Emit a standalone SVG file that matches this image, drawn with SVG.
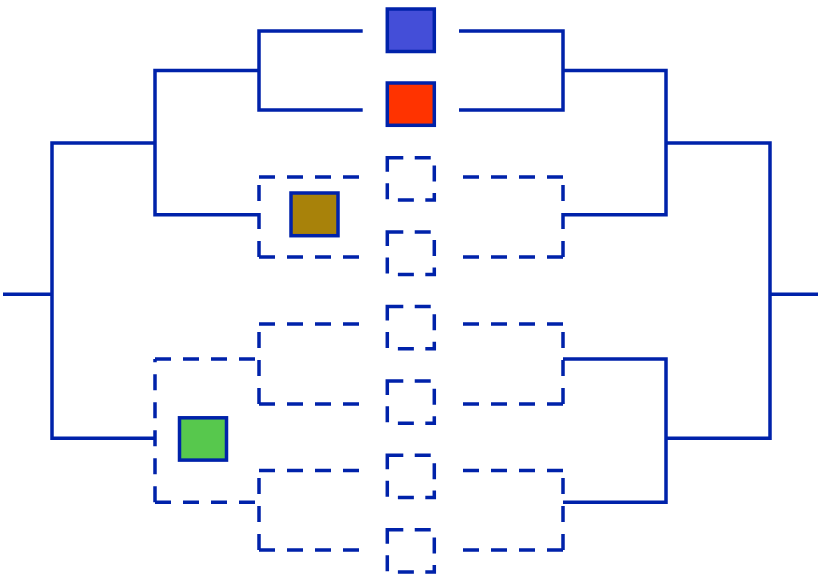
<svg xmlns="http://www.w3.org/2000/svg" width="818" height="578" viewBox="0 0 818 578">
<style>
.solid{fill:none;stroke:#0022aa;stroke-width:3.5;stroke-linejoin:miter}
.dash{fill:none;stroke:#0022aa;stroke-width:3.5;stroke-dasharray:16 12}
.slot{fill:none;stroke:#0022aa;stroke-width:3.5;stroke-dasharray:16 11.43}
.sq{stroke:#0022aa;stroke-width:3.5}
</style>
<rect width="818" height="578" fill="#ffffff"/>
<g id="connectors">
<path class="solid" d="M3,294.3 H52 M155,143 H52 V438.3 H155 M259,70.5 H155 V214.8 H259 M362.7,31 H259 V110 H362.7 M459,31 H563 V110 H459 M563,70.5 H666 V214.8 H563 M666,143 H770 V438.3 H666 M770,294.3 H818 M563,359 H666 V502.3 H563"/>
<g class="dash">
<line x1="259" y1="177" x2="359" y2="177"/><line x1="259" y1="257" x2="359" y2="257"/><line x1="259" y1="257" x2="259" y2="177"/>
<line x1="463" y1="177" x2="563" y2="177"/><line x1="463" y1="257" x2="563" y2="257"/><line x1="563" y1="257" x2="563" y2="177"/>
<line x1="259" y1="324" x2="359" y2="324"/><line x1="259" y1="404" x2="359" y2="404"/><line x1="259" y1="404" x2="259" y2="324"/>
<line x1="463" y1="324" x2="563" y2="324"/><line x1="463" y1="404" x2="563" y2="404"/><line x1="563" y1="404" x2="563" y2="324"/>
<line x1="259" y1="470.5" x2="359" y2="470.5"/><line x1="259" y1="550" x2="359" y2="550"/><line x1="259" y1="550" x2="259" y2="470.5"/>
<line x1="463" y1="470.5" x2="563" y2="470.5"/><line x1="463" y1="550" x2="563" y2="550"/><line x1="563" y1="550" x2="563" y2="470.5"/>
<line x1="155" y1="359" x2="259" y2="359"/><line x1="155" y1="502.3" x2="259" y2="502.3"/><line x1="155" y1="502.3" x2="155" y2="359"/>
</g>
</g>
<g id="node-blue"><rect class="sq" x="387.3" y="9" width="47" height="42.5" fill="#444ed8"/></g>
<g id="node-red"><rect class="sq" x="387.3" y="83" width="47" height="42.3" fill="#ff3300"/></g>
<g id="node-slot3"><rect class="slot" x="387.3" y="157.7" width="47" height="42.3"/></g>
<g id="node-slot4"><rect class="slot" x="387.3" y="232.1" width="47" height="42.3"/></g>
<g id="node-slot5"><rect class="slot" x="387.3" y="306.5" width="47" height="42.3"/></g>
<g id="node-slot6"><rect class="slot" x="387.3" y="380.9" width="47" height="42.3"/></g>
<g id="node-slot7"><rect class="slot" x="387.3" y="455.3" width="47" height="42.3"/></g>
<g id="node-slot8"><rect class="slot" x="387.3" y="529.7" width="47" height="42.3"/></g>
<g id="node-gold"><rect class="sq" x="291" y="193" width="47" height="42.7" fill="#a8820a"/></g>
<g id="node-green"><rect class="sq" x="179.5" y="417.8" width="47" height="42.3" fill="#57c84d"/></g>
</svg>
